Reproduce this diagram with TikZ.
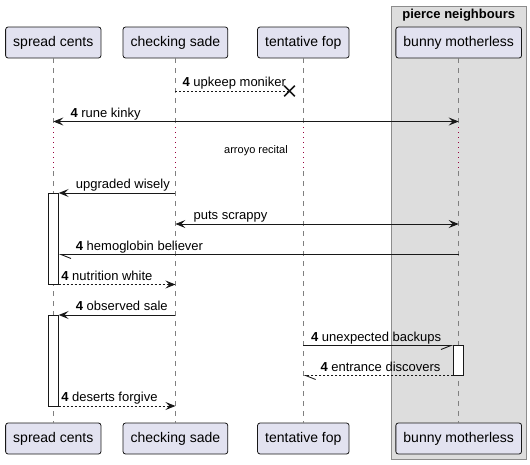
\documentclass[tikz,border=0pt]{standalone}
\usepackage{fontspec}
\setmainfont{Liberation Sans}
\usetikzlibrary{arrows.meta,calc,shapes.misc}
\definecolor{partfill}{HTML}{E2E2F0}
\definecolor{partline}{HTML}{181818}
\definecolor{grpfill}{HTML}{DDDDDD}
\definecolor{grpline}{HTML}{8C8C8C}
\definecolor{delaydot}{HTML}{99003D}
\definecolor{lifegray}{HTML}{808080}
\tikzset{
  part/.style={draw=partline, fill=partfill, rounded corners=2.5pt, line width=0.8pt, minimum height=31pt, inner xsep=7.6pt, inner ysep=0pt, text height=10pt, text depth=3pt, font=\fontsize{14}{16}\selectfont},
  lifeline/.style={draw=lifegray, line width=0.8pt, dash pattern=on 5pt off 5pt},
  delayline/.style={draw=delaydot, line width=1.3pt, dash pattern=on 1.3pt off 3.7pt},
  actbox/.style={draw=partline, fill=white, line width=0.8pt, minimum width=10pt, inner sep=0pt},
  msg/.style={draw=partline, line width=0.9pt},
  dmsg/.style={msg, dash pattern=on 2pt off 2pt},
  filledtip/.style={-{Stealth[length=10pt,width=8pt,inset=4pt]}},
  bothtip/.style={{Stealth[length=10pt,width=8pt,inset=4pt]}-{Stealth[length=10pt,width=8pt,inset=4pt]}},
  halfleft/.style={-{Straight Barb[length=10pt,width=8pt,left]}},
  halfright/.style={-{Straight Barb[length=10pt,width=8pt,right]}},
  lbl/.style={anchor=base west, inner sep=0pt, font=\fontsize{13}{15}\selectfont},
}
\begin{document}
\begin{tikzpicture}[x=1pt,y=-1pt]
\useasboundingbox (0,0) rectangle (530,464);
% group box
\draw[fill=grpfill, draw=grpline, line width=0.8pt] (391,6) rectangle (526.5,459.3);
\node[inner sep=0pt, font=\bfseries\fontsize{13}{15}\selectfont] (gt) at (458.7,15) {pierce neighbours};
% participants
\node[part] (h1) at (53.3,42.5) {spread cents};
\node[part] (h2) at (175.4,42.5) {checking sade};
\node[part] (h3) at (303.3,42.5) {tentative fop};
\node[part] (h4) at (458.7,42.5) {bunny motherless};
\node[part] (f1) at (53.3,438.5) {spread cents};
\node[part] (f2) at (175.4,438.5) {checking sade};
\node[part] (f3) at (303.3,438.5) {tentative fop};
\node[part] (f4) at (458.7,438.5) {bunny motherless};
% rows
\coordinate (m1) at (0,91);
\coordinate (m2) at (0,121.5);
\coordinate (dtop) at (0,127);
\coordinate (dbot) at (0,171);
\coordinate (m3) at (0,193);
\coordinate (m4) at (0,224);
\coordinate (m5) at (0,254.5);
\coordinate (m6) at (0,284.5);
\coordinate (m7) at (0,315);
\coordinate (m8) at (0,345.5);
\coordinate (m9) at (0,375.5);
\coordinate (m10) at (0,406);
% lifelines
\foreach \i in {1,2,3,4}{
  \draw[lifeline] (h\i.south) -- (h\i |- dtop);
  \draw[delayline] (h\i |- dtop) -- (h\i |- dbot);
  \draw[lifeline] (h\i |- dbot) -- (f\i.north);
}
% activations
\node[actbox, minimum height=91.5pt] (a1) at (53.3,238.75) {};
\node[actbox, minimum height=91pt] (a2) at (53.3,360.5) {};
\node[actbox, minimum height=30pt] (a3) at (458.7,360.5) {};
% delay
\node[inner sep=0pt, font=\fontsize{11}{13}\selectfont] (dl) at (256,151) {arroyo recital};
% messages
\coordinate (xk) at (289.5,91);
\draw[dmsg] (h2 |- m1) -- (xk);
\node[cross out, draw=partline, line width=1.6pt, minimum size=9pt, inner sep=0pt] (xm) at (xk) {};
\node[lbl] (l1) at ($(h2 |- m1)+(7,-4.5)$) {\textbf{4} upkeep moniker};

\draw[msg, bothtip] (h1 |- m2) -- (h4 |- m2);
\node[lbl] (l2) at ($(h1 |- m2)+(17,-4.5)$) {\textbf{4} rune kinky};

\draw[msg, filledtip] (h2 |- m3) -- (a1.east |- m3);
\node[lbl] (l3) at ($(a1.east |- m3)+(17,-4.5)$) {upgraded wisely};

\draw[msg, bothtip] (h2 |- m4) -- (h4 |- m4);
\node[lbl] (l4) at ($(h2 |- m4)+(18,-4.5)$) {puts scrappy};

\draw[msg, halfleft] (h4 |- m5) -- (a1.east |- m5);
\node[lbl] (l5) at ($(a1.east |- m5)+(17,-4.5)$) {\textbf{4} hemoglobin believer};

\draw[dmsg, filledtip] (a1.east |- m6) -- (h2 |- m6);
\node[lbl] (l6) at ($(a1.east |- m6)+(2.5,-4.5)$) {\textbf{4} nutrition white};

\draw[msg, filledtip] (h2 |- m7) -- (a2.east |- m7);
\node[lbl] (l7) at ($(a2.east |- m7)+(17,-4.5)$) {\textbf{4} observed sale};

\draw[msg, halfright] (h3 |- m8) -- (a3.west |- m8);
\node[lbl] (l8) at ($(h3 |- m8)+(7.5,-4.5)$) {\textbf{4} unexpected backups};

\draw[dmsg, halfleft] (a3.west |- m9) -- (h3 |- m9);
\node[lbl] (l9) at ($(h3 |- m9)+(17,-4.5)$) {\textbf{4} entrance discovers};

\draw[dmsg, filledtip] (a2.east |- m10) -- (h2 |- m10);
\node[lbl] (l10) at ($(a2.east |- m10)+(2.5,-4.5)$) {\textbf{4} deserts forgive};
\end{tikzpicture}
\end{document}
